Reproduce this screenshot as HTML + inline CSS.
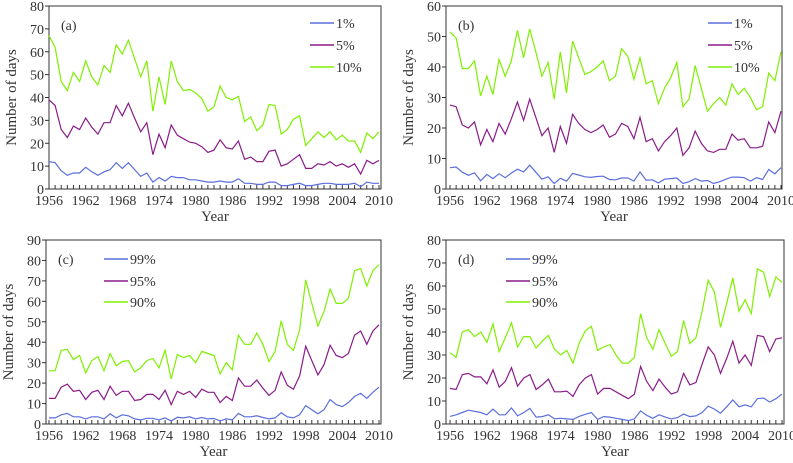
<!DOCTYPE html>
<html><head><meta charset="utf-8"><style>
html,body{margin:0;padding:0;background:#fff;width:793px;height:463px;overflow:hidden}
</style></head><body>
<svg id="chart" width="793" height="463" xmlns="http://www.w3.org/2000/svg" font-family="'Liberation Serif', 'DejaVu Serif', serif">
<style>text{font-family:"Liberation Serif","DejaVu Serif",serif;fill:#333}</style>
</svg>
<script>
const years=[];for(let y=1956;y<=2010;y++)years.push(y);
const xTickLabels=[1956,1962,1968,1974,1980,1986,1992,1998,2004,2010];
const aS1=[12,11.5,8,6,7,7,9.5,7.5,6,7.5,8.5,11.5,9,11.5,8.5,5.5,7,3,5,3.5,5.5,5,5,4,4,3.5,3,3,3.5,3,3,4.5,2.5,2.5,2,2,3,3,1.5,1.5,2,2.5,1.5,1.5,2,2.5,2.5,2,2,2,2.5,1,3,2.5,2.5];
const aS5=[39,36.5,26,22.5,27.5,26,31,27,24,29,29,36.5,32,37.5,31,25,29,15,24,18,28,23.5,22,20.5,20,18.5,16,17,21.5,18,17.5,21,13,14,12,12,16.5,17,10,11,13,15,9,9,11,10.5,12,10,11,9.5,11,6.5,12.5,11,12.5];
const aS10=[67,62,47,43,51,47,56,49,45.5,54,51,63,59,65,57,49,56,34,49,37,56,47,43,43.5,42,39.5,34,36,45,40,39,40.5,29.5,31.5,25.5,28,37,36.5,24,26,30.5,32,19,22,25,22.5,25,21.5,23.5,21,21,16,24.5,22,25];
const bS1=[7,7.2,5.5,4.5,5.3,2.7,4.8,3.4,5,3.7,5.2,6.5,5.6,7.8,5.5,3.2,4,1.8,3.5,2.6,5.1,4.6,4,3.8,4.1,4.2,3.1,3,3.6,3.6,2.6,5.6,2.9,3,2,3.2,3.4,3.6,1.8,2.4,3.4,2.6,2.8,1.8,2.4,3.2,3.9,3.9,3.7,2.6,3.7,3.1,6.4,5,7];
const bS5=[27.5,27,21,20,22,14.5,19.5,15.5,21.5,18,23,28.5,22.5,29.5,23.5,17.5,20,12,20.5,15,24.5,21.5,19.5,18.5,19.5,21,17,18,21.5,20.5,16.5,23.5,15.5,16.5,12.5,15.5,17.5,20,11,13.5,19,15,12.5,12,13,13,18,16,16.5,13.5,13.5,14,22,18.5,25.5];
const bS10=[51.5,49.5,39.5,39.5,42,30.5,37,31,42.5,37,42,52,43,52.5,45,37,41.5,29.5,45,31.5,48.5,43,37.5,38.5,40,42,35.5,37,46,43.5,36,43,34.5,35.5,28,33,36.5,41.5,27,29.5,40.5,33,25.5,28,30,27.5,34.5,31,33,30,26,27,38,35.5,45];
const cS99=[3,3,4.5,5.2,3.5,3.5,2.5,3.5,3.5,2.5,5,3,4.5,4,2.5,2,2.8,2.8,2,3,1.5,3.3,3,3.5,2.5,3.2,2.5,2.7,1.5,2.5,2,5.2,3.5,3.5,4,3.2,2.5,3,5.5,3.5,3,4.5,9,7,5,7,12,9.5,8.5,10.5,13.5,15,12.5,15.5,18];
const cS95=[12.5,12.5,18,19.5,16,16.5,12,15.5,16.5,12,18.5,14,16,16,11.5,12,14.5,14.5,12,16.5,9.5,16,14.5,16,13,17,15.5,15.5,10.5,13.5,11.5,22.5,18.5,18.5,21.5,17.5,14,16.5,25.5,19,17,23.5,38,31,24,29,38.5,33.5,32.5,34.5,43.5,45.5,39,45.5,48.5];
const cS90=[26,26,36,36.5,31.5,33.5,25,31,33,26,34.5,28.5,30.5,31,25.5,27.5,31,32,27.5,36,22,34,32.5,33.5,30,35.5,34.5,33.5,24.5,30,26.5,43.5,39,39,44.5,39,30.5,35.5,50.5,39,36,46,70.5,59,48,55,66,59,59,61.5,75,76,67.5,75,78];
const dS99=[3.3,4,5,6,5.5,5,4,6.5,4,4,7,3.5,5,6.8,3,3.2,4,2.2,2.5,2.2,2,3.3,4.2,5,2,3.2,3,2.5,2,1.5,2.2,5.7,3.8,2.5,4,3,2.2,2.8,4.3,3.2,3.5,5,7.8,6.5,4.7,7.5,10.5,7.5,8.3,7.5,11,11.3,9.5,11,13];
const dS95=[15.5,15,21.5,22,20.5,20.5,17.5,23.5,16,18.5,24.5,16.5,20,21.5,15,17,19.5,14,14,14.3,12,17,20,21.5,13,15.5,15.5,14,12.5,11,13,25,18.5,14.5,19.5,16,13,14,22,17,18,26,33.5,30,22,28.5,36,26.5,30,25.5,38.5,38,31.5,37,37.5];
const dS90=[31,29,40,41,38,40,35.5,43.5,31.5,37.5,44,33.5,38,38,33,36,38.5,32.5,30,32,26.5,35,40.5,42.5,32,33.5,34.5,30,26.5,26.5,29,48,37.5,32.5,41,35,29.5,31.5,45,35,37.5,49,62.5,57.5,42,52.5,63.5,49,54,48,67.5,66,55.5,64,61.5];

const NS='http://www.w3.org/2000/svg';
const svg=document.getElementById('chart');
const BLUE='#5b6fdc',PURPLE='#8a1c8a',GREEN='#7ff000';
const FONT="'Liberation Serif', 'DejaVu Serif', serif";
function mk(tag,attrs,parent,text){const e=document.createElementNS(NS,tag);for(const k in attrs)e.setAttribute(k,attrs[k]);if(tag==='text'){e.setAttribute('font-family',FONT);e.setAttribute('fill','#333');}if(text!==undefined)e.textContent=text;(parent||svg).appendChild(e);return e;}

function panel(p){
  const g=mk('g',{});
  
  
  const X=y=>p.x0+(y-1956)*(p.x1-p.x0)/54;
  const Y=v=>p.yb-v*(p.yb-p.yt)/p.ymax;
  const fr=mk('rect',{x:p.l,y:p.yt,width:p.r-p.l,height:p.yb-p.yt,fill:'none',stroke:'#333','stroke-width':1},g);
  
  
  for(let v=0;v<=p.ymax;v+=10){
    mk('line',{x1:p.l-4,x2:p.l,y1:Y(v),y2:Y(v),stroke:'#333'},g);
    const t=mk('text',{x:p.l-5,y:Y(v)+5,'text-anchor':'end','font-size':14},g,String(v));
    
    
  }
  years.forEach(y=>mk('line',{x1:X(y),x2:X(y),y1:p.yb,y2:p.yb-4,stroke:'#333'},g));
  xTickLabels.forEach(y=>{
    const t=mk('text',{x:X(y),y:p.yb+16,'text-anchor':'middle','font-size':14},g,String(y));
    
    
  });
  const yt=mk('text',{transform:`translate(${p.l-33},${(p.yt+p.yb)/2}) rotate(-90)`,'text-anchor':'middle','font-size':15},g,'Number  of  days');
  
  
  const xt=mk('text',{x:(p.l+p.r)/2,y:p.yb+32,'text-anchor':'middle','font-size':15},g,'Year');
  
  
  const pl=mk('text',{x:p.l+12,y:p.yt+24,'font-size':14},g,'('+p.id+')');
  
  
  p.series.forEach((s,i)=>{
    const pts=s.data.map((v,k)=>X(years[k]).toFixed(1)+','+Y(v).toFixed(1)).join(' ');
    const ln=mk('polyline',{points:pts,fill:'none',stroke:s.color,'stroke-width':1.2},g);
    
    
    const ly=p.legY[i];
    const le=mk('line',{x1:p.legX,x2:p.legX+24,y1:ly,y2:ly,stroke:s.color,'stroke-width':1.5},g);
    
    
    const lt=mk('text',{x:p.legX+26,y:ly+5,'font-size':14},g,s.name);
    
    
  });
}
panel({id:'a',l:49,r:381,x0:49,x1:379,yt:6,yb:189,ymax:80,legX:310,legY:[23,45,67],
  series:[{name:'1%',data:aS1,color:BLUE},{name:'5%',data:aS5,color:PURPLE},{name:'10%',data:aS10,color:GREEN}]});
panel({id:'b',l:446,r:782,x0:450,x1:781,yt:6,yb:189,ymax:60,legX:708,legY:[23,45,67],
  series:[{name:'1%',data:bS1,color:BLUE},{name:'5%',data:bS5,color:PURPLE},{name:'10%',data:bS10,color:GREEN}]});
panel({id:'c',l:46,r:381,x0:49,x1:379,yt:240,yb:424,ymax:90,legX:104,legY:[259,281,302],
  series:[{name:'99%',data:cS99,color:BLUE},{name:'95%',data:cS95,color:PURPLE},{name:'90%',data:cS90,color:GREEN}]});
panel({id:'d',l:446,r:784,x0:450,x1:782,yt:240,yb:424,ymax:80,legX:506,legY:[259,281,302],
  series:[{name:'99%',data:dS99,color:BLUE},{name:'95%',data:dS95,color:PURPLE},{name:'90%',data:dS90,color:GREEN}]});
</script>
</body></html>
